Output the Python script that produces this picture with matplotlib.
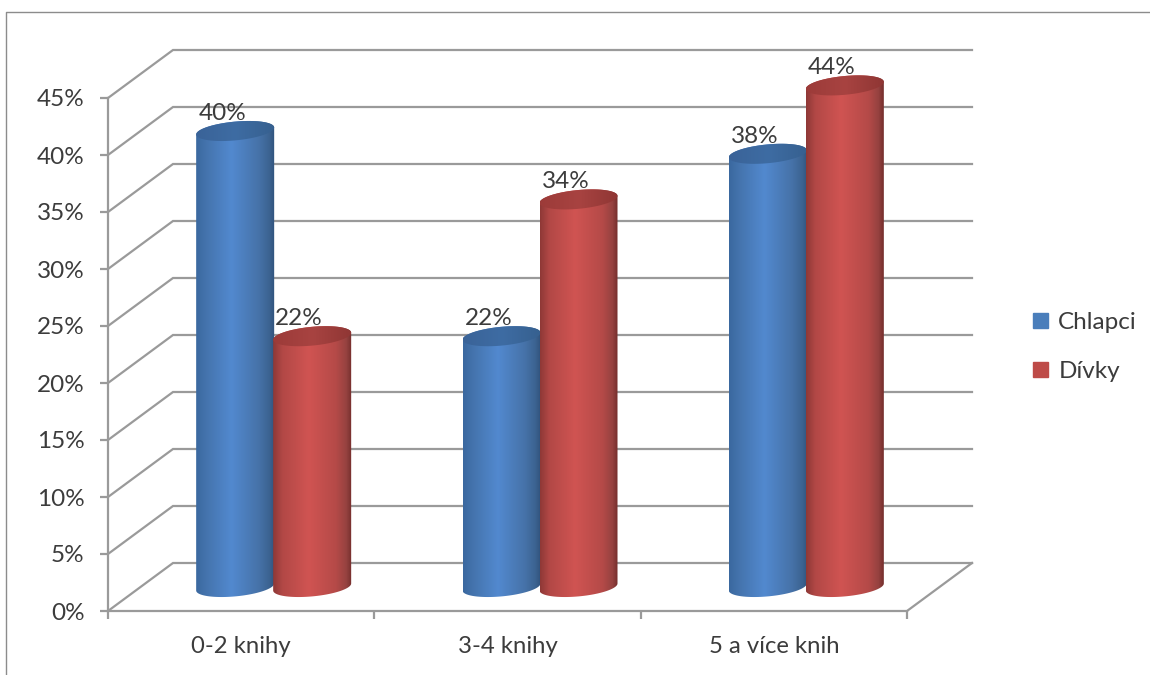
import numpy as np
import matplotlib
matplotlib.use("Agg")
import matplotlib.pyplot as plt
from matplotlib.colors import LinearSegmentedColormap
from matplotlib.patches import Patch, PathPatch
from matplotlib.path import Path
from matplotlib.lines import Line2D

categories = ["0-2 knihy", "3-4 knihy", "5 a více knih"]
series_names = ["Chlapci", "Dívky"]
chlapci = [40, 22, 38]
divky = [22, 34, 44]
y_ticks = [0, 5, 10, 15, 20, 25, 30, 35, 40, 45]

W, H = 1150, 675
plt.rcParams["font.family"] = ["Lato", "DejaVu Sans"]
TXT = "#3c3c3c"
GRID = "#9a9a9a"

fig = plt.figure(figsize=(W / 100, H / 100), dpi=100, facecolor="white")
L, R, B, T = 108, 907, 611, 98
ax = fig.add_axes([L / W, 1 - B / H, (R - L) / W, (B - T) / H], facecolor="none")
ax.set_xlim(0, 3)
ax.set_ylim(0, 45)
px_x = 3 / (R - L)
px_y = 45 / (B - T)
depth_x = 65 * px_x
depth_y = 48 * px_y

# walls and floor
for v in y_ticks:
    ax.plot([0, depth_x, 3 + depth_x], [v, v + depth_y, v + depth_y], color=GRID, lw=1.6,
            clip_on=False, zorder=1, solid_joinstyle="miter")
ax.plot([3, 3 + depth_x], [0, depth_y], color=GRID, lw=1.6, clip_on=False, zorder=1)

cmaps = {
    "Chlapci": LinearSegmentedColormap.from_list("b", [(0, "#3a689f"), (0.12, "#4473ac"), (0.45, "#5289cf"),
                                                       (0.8, "#4672a8"), (0.93, "#3c6391"), (1, "#30537c")]),
    "Dívky": LinearSegmentedColormap.from_list("r", [(0, "#8e3836"), (0.12, "#b24846"), (0.45, "#d05452"),
                                                     (0.8, "#b54a48"), (0.93, "#964240"), (1, "#742e2c")]),
}
caps = {
    "Chlapci": LinearSegmentedColormap.from_list("bc", ["#3a6398", "#3e6ca3", "#36608f"]),
    "Dívky": LinearSegmentedColormap.from_list("rc", ["#9c3b39", "#a84341", "#8f3634"]),
}
grad = np.linspace(0, 1, 256).reshape(1, -1)

bar_w = 78 * px_x
a = bar_w / 2
b = 9.4 * px_y
t = 3.5 * px_y
base = 24 * px_y


def arc(cx, cy, t0, t1):
    th = np.linspace(t0, t1, 60)
    return np.column_stack([cx + a * np.cos(th), cy + b * np.sin(th) + t * np.cos(th)])


def cylinder(cx, value, name, z):
    top = value + base
    body = np.vstack([arc(cx, base, np.pi, 2 * np.pi), arc(cx, top, 0, np.pi)])
    im = ax.imshow(grad, cmap=cmaps[name], extent=[cx - a, cx + a, 0, top + 3], aspect="auto",
                   zorder=z)
    im.set_clip_path(PathPatch(Path(np.vstack([body, body[:1]])), transform=ax.transData))
    im.set_clip_box(fig.bbox)
    cap = arc(cx, top, 0, 2 * np.pi)
    imc = ax.imshow(grad, cmap=caps[name], extent=[cx - a, cx + a, top - 3, top + 3], aspect="auto",
                    zorder=z + 0.1)
    imc.set_clip_path(PathPatch(Path(cap), transform=ax.transData))
    imc.set_clip_box(fig.bbox)
    ax.annotate(f"{value}%", (cx, top), xytext=(-13 * 0.72, 5), textcoords="offset points",
                ha="center", va="bottom", fontsize=17.5, color=TXT, zorder=20, annotation_clip=False)


z = 3
for i in range(len(categories)):
    cx0 = i + 0.5 + depth_x / 2
    cylinder(cx0 - 38.5 * px_x, chlapci[i], "Chlapci", z)
    cylinder(cx0 + 38.5 * px_x, divky[i], "Dívky", z + 1)
    z += 2

ax.set_xlim(0, 3)
ax.set_ylim(0, 45)

for s in ("top", "right"):
    ax.spines[s].set_visible(False)
for s in ("left", "bottom"):
    ax.spines[s].set_color(GRID)
    ax.spines[s].set_linewidth(1.6)
ax.set_yticks(y_ticks)
ax.set_yticklabels([f"{v}%" for v in y_ticks], fontsize=17.5, color=TXT)
ax.set_xticks([0, 1, 2, 3])
ax.set_xticklabels([])
ax.set_xticks([i + 0.5 for i in range(3)], minor=True)
ax.set_xticklabels(categories, minor=True, fontsize=17.2, color=TXT)
ax.tick_params(axis="y", length=6, width=1.6, color=GRID, pad=11)
ax.tick_params(axis="x", which="major", length=6, width=1.6, color=GRID)
ax.tick_params(axis="x", which="minor", length=0, pad=18)

handles = [Patch(facecolor="#4a7ebb", edgecolor="#4a7ebb", label=series_names[0]),
           Patch(facecolor="#be4b48", edgecolor="#be4b48", label=series_names[1])]
leg = ax.legend(handles=handles, loc="center left", bbox_to_anchor=(1033 / W, 1 - 347 / H),
                bbox_transform=fig.transFigure, frameon=False, fontsize=17.5, labelcolor=TXT,
                handlelength=0.62, handleheight=0.62, handletextpad=0.42, labelspacing=1.15,
                borderpad=0, borderaxespad=0)

# outer frame of the picture
fig.add_artist(Line2D([6 / W, 6 / W, 1], [0, 1 - 12 / H, 1 - 12 / H], color="#8c8c8c", lw=1.0,
                      transform=fig.transFigure))

fig.savefig("out.png", dpi=100)
